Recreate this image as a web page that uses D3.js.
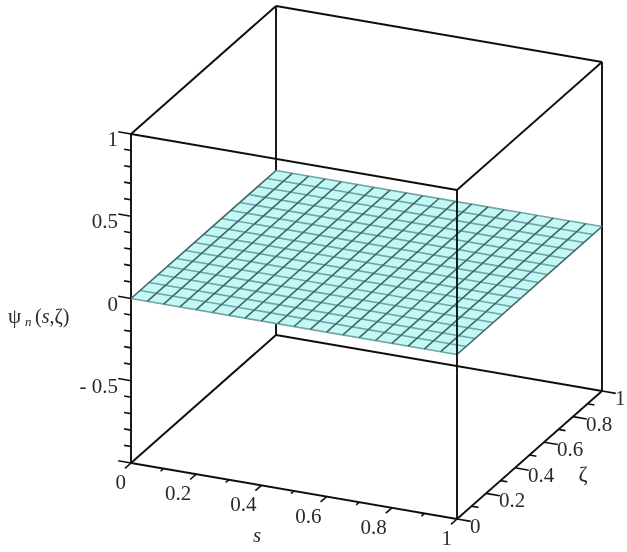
<!DOCTYPE html>
<html lang="en">
<head>
<meta charset="UTF-8">
<title>psi surface</title>
<script src="https://cdnjs.cloudflare.com/ajax/libs/d3/7.8.5/d3.min.js"></script>
<style>
  html, body { margin: 0; padding: 0; background: #fff; }
  text { font-family: "Liberation Serif", serif; fill: #2a2a2a; }
</style>
</head>
<body>
<svg id="chart" width="627" height="552"></svg>
<script>
// data
const sTicks = [0, 0.1, 0.2, 0.3, 0.4, 0.5, 0.6, 0.7, 0.8, 0.9, 1];
const sLabels = [0, 0.2, 0.4, 0.6, 0.8, 1];
const zetaTicks = [0, 0.1, 0.2, 0.3, 0.4, 0.5, 0.6, 0.7, 0.8, 0.9, 1];
const zetaLabels = [0, 0.2, 0.4, 0.6, 0.8, 1];
const psiTicks = [-1, -0.9, -0.8, -0.7, -0.6, -0.5, -0.4, -0.3, -0.2, -0.1, 0, 0.1, 0.2, 0.3, 0.4, 0.5, 0.6, 0.7, 0.8, 0.9, 1];
const psiMajor = [-1, -0.5, 0, 0.5, 1];
const psiLabels = [-0.5, 0, 0.5, 1];
const sGrid = [0, 0.05, 0.1, 0.15, 0.2, 0.25, 0.3, 0.35, 0.4, 0.45, 0.5, 0.55, 0.6, 0.65, 0.7, 0.75, 0.8, 0.85, 0.9, 0.95, 1];
const zetaGrid = [0, 0.0625, 0.125, 0.1875, 0.25, 0.3125, 0.375, 0.4375, 0.5, 0.5625, 0.625, 0.6875, 0.75, 0.8125, 0.875, 0.9375, 1];
const psiSurface = 0; // the plotted function is flat zero

// oblique projection, one scale per axis and screen direction
const sX = d3.scaleLinear().domain([0, 1]).range([0, 326]);
const sY = d3.scaleLinear().domain([0, 1]).range([0, 56]);
const zetaX = d3.scaleLinear().domain([0, 1]).range([0, 145]);
const zetaY = d3.scaleLinear().domain([0, 1]).range([0, -128]);
const psiY = d3.scaleLinear().domain([-1, 1]).range([463, 134]);

const px = (s, zeta) => 131 + sX(s) + zetaX(zeta);
const py = (s, zeta, psi) => psiY(psi) + sY(s) + zetaY(zeta);

const svg = d3.select('#chart');
svg.append('defs').append('filter').attr('id', 'soft')
  .attr('filterUnits', 'userSpaceOnUse')
  .attr('x', 0).attr('y', 0).attr('width', 627).attr('height', 552)
  .append('feGaussianBlur').attr('stdDeviation', 0.5);

const root = svg.append('g').attr('filter', 'url(#soft)');

function edge(sel, a, b) {
  sel.append('line')
    .attr('x1', px(a[0], a[1])).attr('y1', py(a[0], a[1], a[2]))
    .attr('x2', px(b[0], b[1])).attr('y2', py(b[0], b[1], b[2]))
    .attr('stroke', '#111').attr('stroke-width', 1.9);
}

// box edges behind the surface
const backEdges = [
  [[0, 0, -1], [0, 1, -1]],
  [[0, 1, -1], [1, 1, -1]],
  [[0, 1, -1], [0, 1, 1]],
  [[0, 0, -1], [0, 0, 1]],
  [[1, 1, -1], [1, 1, 1]],
  [[0, 0, 1], [0, 1, 1]],
  [[0, 1, 1], [1, 1, 1]]
];
backEdges.forEach(e => edge(root, e[0], e[1]));

// surface
const surface = root.append('g');
const outline = [[0, 0], [1, 0], [1, 1], [0, 1]];
surface.append('polygon')
  .attr('points', outline.map(c => [px(c[0], c[1]), py(c[0], c[1], psiSurface)].join(',')).join(' '))
  .attr('fill', '#c4f8f6');

zetaGrid.forEach(z => {
  surface.append('line')
    .attr('x1', px(0, z)).attr('y1', py(0, z, psiSurface))
    .attr('x2', px(1, z)).attr('y2', py(1, z, psiSurface))
    .attr('stroke', '#6fa5a5').attr('stroke-width', 1.7);
});
sGrid.forEach(s => {
  surface.append('line')
    .attr('x1', px(s, 0)).attr('y1', py(s, 0, psiSurface))
    .attr('x2', px(s, 1)).attr('y2', py(s, 1, psiSurface))
    .attr('stroke', '#3d6868').attr('stroke-width', 1.6);
});

// box edges in front of the surface
const frontEdges = [
  [[0, 0, -1], [1, 0, -1]],
  [[1, 0, -1], [1, 1, -1]],
  [[1, 0, -1], [1, 0, 1]],
  [[0, 0, 1], [1, 0, 1]],
  [[1, 0, 1], [1, 1, 1]]
];
frontEdges.forEach(e => edge(root, e[0], e[1]));

// ticks
function tick(x0, y0, dx, dy, len) {
  root.append('line')
    .attr('x1', x0).attr('y1', y0)
    .attr('x2', x0 + dx * len).attr('y2', y0 + dy * len)
    .attr('stroke', '#111').attr('stroke-width', 1.6);
}

psiTicks.forEach(p => {
  const major = psiMajor.includes(p);
  tick(px(0, 0), py(0, 0, p), -0.985, -0.17, major ? 13 : 7);
});
sTicks.forEach((s, i) => {
  tick(px(s, 0), py(s, 0, -1), -0.75, 0.66, i % 2 === 0 ? 8 : 4);
});
zetaTicks.forEach((z, i) => {
  tick(px(1, z), py(1, z, -1), 0.985, 0.17, i % 2 === 0 ? 14 : 7);
});

// tick labels
const fontSize = 21;
root.selectAll('.psi-label').data(psiLabels).join('text')
  .attr('class', 'psi-label')
  .attr('x', 118)
  .attr('y', d => psiY(d) + 12)
  .attr('text-anchor', 'end')
  .attr('font-size', fontSize)
  .text(d => d < 0 ? '- ' + Math.abs(d) : d);

root.selectAll('.s-label').data(sLabels).join('text')
  .attr('class', 's-label')
  .attr('x', d => px(d, 0) - 5)
  .attr('y', d => py(d, 0, -1) + 26)
  .attr('text-anchor', 'end')
  .attr('font-size', fontSize)
  .text(d => d);

root.selectAll('.zeta-label').data(zetaLabels).join('text')
  .attr('class', 'zeta-label')
  .attr('x', d => px(1, d) + 13)
  .attr('y', d => py(1, d, -1) + 14)
  .attr('font-size', fontSize)
  .text(d => d);

// axis titles
root.append('text').attr('x', 257).attr('y', 542)
  .attr('text-anchor', 'middle').attr('font-size', fontSize)
  .attr('font-style', 'italic').text('s');
root.append('text').attr('x', 583).attr('y', 481)
  .attr('text-anchor', 'middle').attr('font-size', fontSize + 1).text('ζ');

root.append('text').attr('x', 8).attr('y', 323).attr('font-size', fontSize).text('ψ');
root.append('text').attr('x', 25).attr('y', 326).attr('font-size', 13)
  .attr('font-style', 'italic').text('n');
const arg = root.append('text').attr('x', 35).attr('y', 323).attr('font-size', fontSize - 1);
arg.append('tspan').text('(');
arg.append('tspan').attr('font-style', 'italic').text('s');
arg.append('tspan').text(',ζ)');
</script>
</body>
</html>
